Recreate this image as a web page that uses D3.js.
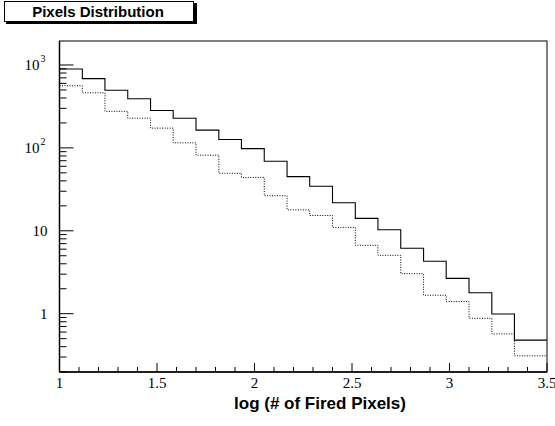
<!DOCTYPE html>
<html>
<head>
<meta charset="utf-8">
<script src="https://cdn.jsdelivr.net/npm/d3@7"></script>
<style>
  body { margin: 0; background: #fff; }
  svg { display: block; }
  .tick-label { font-family: "Liberation Serif", "Times New Roman", serif; font-size: 15px; fill: #000; }
  .title { font-family: "Liberation Sans", Arial, Helvetica, sans-serif; font-weight: bold; fill: #000; }
</style>
</head>
<body>
<div id="chart"></div>
<script>
// Chart size
var svgWidth = 555;
var svgHeight = 426;
var margin = { t: 41, r: 8, b: 54, l: 59.5 };
var chartWidth = svgWidth - margin.l - margin.r;
var chartHeight = svgHeight - margin.t - margin.b;

// Bin edges (log # of fired pixels)
var binEdges = [1.0, 1.117, 1.233, 1.35, 1.467, 1.583, 1.7, 1.817, 1.933, 2.05, 2.167,
                2.283, 2.4, 2.517, 2.633, 2.75, 2.867, 2.983, 3.1, 3.217, 3.333, 3.45, 3.567];

// Solid histogram contents
var solidValues = [895, 684, 495, 392, 283, 228, 164, 126, 98, 69, 45,
                   34.4, 21.8, 14.1, 10.3, 6.15, 4.29, 2.67, 1.79, 0.99, 0.48, 0.48];

// Dotted histogram contents
var dottedValues = [562, 462, 276, 228, 173, 115, 81.7, 49.4, 44, 26.5, 17.9,
                    15.3, 11.0, 6.68, 5.06, 3.04, 1.67, 1.40, 0.88, 0.57, 0.31, 0.31];

// Axis ticks
var xMajorTicks = [1, 1.5, 2, 2.5, 3, 3.5];
var xTickLabels = ["1", "1.5", "2", "2.5", "3", "3.5"];
var yDecades = [1, 10, 100, 1000];
var yMinorTicks = [0.2, 0.3, 0.4, 0.5, 0.6, 0.7, 0.8, 0.9,
                   2, 3, 4, 5, 6, 7, 8, 9,
                   20, 30, 40, 50, 60, 70, 80, 90,
                   200, 300, 400, 500, 600, 700, 800, 900];

var svg = d3.select("#chart")
    .append("svg")
    .attr("width", svgWidth)
    .attr("height", svgHeight);

var chart = svg.append("g")
    .attr("transform", `translate(${margin.l} ${margin.t})`);

var xScale = d3.scaleLinear()
    .domain([1, 3.5])
    .range([0, chartWidth]);

var yScale = d3.scaleLog()
    .domain([0.198, 1947])
    .range([chartHeight, 0]);

// Clip for histograms
svg.append("defs").append("clipPath")
    .attr("id", "plot-clip")
    .append("rect")
    .attr("width", chartWidth)
    .attr("height", chartHeight);

var stepLine = d3.line()
    .x(d => xScale(d[0]))
    .y(d => yScale(d[1]))
    .curve(d3.curveStepAfter);

function histPoints(values) {
    return binEdges.map((e, i) => [e, values[Math.min(i, values.length - 1)]]);
}

var plot = chart.append("g").attr("clip-path", "url(#plot-clip)");

plot.append("path")
    .datum(histPoints(dottedValues))
    .attr("d", stepLine)
    .attr("fill", "none")
    .attr("stroke", "#000")
    .attr("stroke-width", 1)
    .attr("stroke-dasharray", "1,1.5");

plot.append("path")
    .datum(histPoints(solidValues))
    .attr("d", stepLine)
    .attr("fill", "none")
    .attr("stroke", "#000")
    .attr("stroke-width", 1.1);

// Frame
chart.append("rect")
    .attr("width", chartWidth)
    .attr("height", chartHeight)
    .attr("fill", "none")
    .attr("stroke", "#000")
    .attr("stroke-width", 1);

// X axis ticks
var xMinor = d3.range(10, 36).map(d => d / 10);
var xAxisG = chart.append("g").attr("transform", `translate(0 ${chartHeight})`);
xAxisG.selectAll(".xminor")
    .data(xMinor)
    .enter()
    .append("line")
    .attr("x1", d => xScale(d))
    .attr("x2", d => xScale(d))
    .attr("y1", 0)
    .attr("y2", d => xMajorTicks.some(m => Math.abs(m - d) < 1e-6) ? -9 : -5)
    .attr("stroke", "#000");

xAxisG.append("line")
    .attr("x1", 0).attr("x2", chartWidth)
    .attr("y1", 0).attr("y2", 0)
    .attr("stroke", "#000")
    .attr("stroke-width", 1.5);

xAxisG.selectAll(".xlabel")
    .data(xMajorTicks)
    .enter()
    .append("text")
    .attr("class", "tick-label")
    .attr("x", d => xScale(d))
    .attr("y", 16)
    .attr("text-anchor", "middle")
    .text((d, i) => xTickLabels[i]);

// Y axis ticks
var yAxisG = chart.append("g");
yAxisG.selectAll(".yminor")
    .data(yMinorTicks)
    .enter()
    .append("line")
    .attr("x1", 0).attr("x2", 7)
    .attr("y1", d => yScale(d))
    .attr("y2", d => yScale(d))
    .attr("stroke", "#000");

yAxisG.selectAll(".ymajor")
    .data(yDecades)
    .enter()
    .append("line")
    .attr("x1", 0).attr("x2", 14)
    .attr("y1", d => yScale(d))
    .attr("y2", d => yScale(d))
    .attr("stroke", "#000");

yAxisG.append("line")
    .attr("x1", 0).attr("x2", 0)
    .attr("y1", 0).attr("y2", chartHeight)
    .attr("stroke", "#000")
    .attr("stroke-width", 1.5);

// Y labels: 1, 10 plain; 10^2, 10^3 with superscript
yDecades.forEach(function (d) {
    var exp = Math.round(Math.log10(d));
    var t = yAxisG.append("text")
        .attr("class", "tick-label")
        .attr("y", yScale(d) + 5);
    if (exp <= 1) {
        t.attr("x", -12).attr("text-anchor", "end").text(String(d));
    } else {
        t.attr("x", -20).attr("text-anchor", "end").text("10");
        yAxisG.append("text")
            .attr("class", "tick-label")
            .attr("x", -19)
            .attr("y", yScale(d) - 3)
            .style("font-size", "10px")
            .text(String(exp));
    }
});

// X axis title
svg.append("text")
    .attr("class", "title")
    .attr("x", 320)
    .attr("y", 409)
    .attr("text-anchor", "middle")
    .style("font-size", "17px")
    .text("log (# of Fired Pixels)");

// Title box with shadow
var box = svg.append("g");
box.append("rect")
    .attr("x", 6).attr("y", 3)
    .attr("width", 191).attr("height", 21)
    .attr("fill", "#000");
box.append("rect")
    .attr("x", 4.5).attr("y", 1.5)
    .attr("width", 189).attr("height", 20)
    .attr("fill", "#fff")
    .attr("stroke", "#000")
    .attr("stroke-width", 1);
box.append("text")
    .attr("class", "title")
    .attr("x", 98)
    .attr("y", 17)
    .attr("text-anchor", "middle")
    .style("font-size", "15px")
    .text("Pixels Distribution");
</script>
</body>
</html>
